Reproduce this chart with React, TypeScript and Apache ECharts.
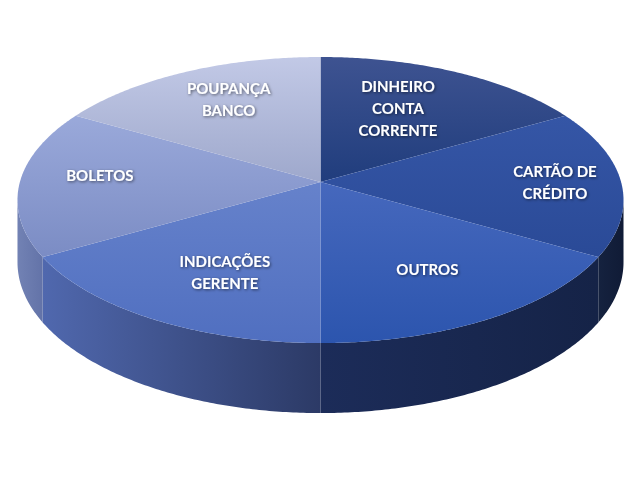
import React, { useEffect, useRef } from "react";
import * as echarts from "echarts";

const labels = [
  "DINHEIRO\nCONTA\nCORRENTE",
  "CARTÃO DE\nCRÉDITO",
  "OUTROS",
  "INDICAÇÕES\nGERENTE",
  "BOLETOS",
  "POUPANÇA\nBANCO",
];
const values = [1, 1, 1, 1, 1, 1];

const topColors = [
  ["#3e5391", "#203d7d"],
  ["#3556a6", "#2a4a97"],
  ["#4668bd", "#2c55ae"],
  ["#6682cb", "#506fc0"],
  ["#9aa9da", "#7b8cc4"],
  ["#c2c9e6", "#9ea8cc"],
];
const sideColors = [
  ["#14203f", "#111c38"],
  ["#15223f", "#101b36"],
  ["#1c2c59", "#152347"],
  ["#5068ae", "#2c3a66"],
  ["#7282b4", "#6373a8"],
  ["#6373a8", "#6373a8"],
];
const labelRadius = [0.63, 0.78, 0.66, 0.66, 0.74, 0.72];
const labelAngleShift = [-4, 0, 0, -3.5, 3.7, 2.7];

export default function App() {
  const ref = useRef<HTMLDivElement>(null);
  useEffect(() => {
    document.body.style.margin = "0";
    const chart = echarts.init(ref.current!, null, { renderer: "svg" });
    const total = values.reduce((s, v) => s + v, 0);
    const cum: number[] = [0];
    values.forEach((v, i) => cum.push(cum[i] + v));
    const K = 0.126;
    const A = 300.6;
    const B = 140.75;
    const D = 61.2;
    const CY = 182;
    const silL = Math.acos(-K);
    const silR = 2 * Math.PI - Math.acos(-K);

    const renderItem = (params: any, api: any) => {
      const i = params.dataIndex;
      const cx = api.getWidth() / 2;
      const proj = (a: number, r: number, down: boolean) => {
        const u = r * Math.sin(a);
        const v = r * Math.cos(a);
        const w = 1 + K * v;
        return [cx + (A * u) / w, CY - (B * v) / w + (down ? D / w : 0)];
      };
      const s = (cum[i] / total) * 2 * Math.PI;
      const e = (cum[i + 1] / total) * 2 * Math.PI;
      const children: any[] = [];
      const a0 = Math.max(s, silL);
      const a1 = Math.min(e, silR);
      if (a1 > a0) {
        const n = Math.max(4, Math.ceil((a1 - a0) / 0.01));
        const topPts: number[][] = [];
        const botPts: number[][] = [];
        for (let j = 0; j <= n; j++) {
          const a = a0 + ((a1 - a0) * j) / n;
          topPts.push(proj(a, 1, false));
          botPts.push(proj(a, 1, true));
        }
        const pts = topPts.concat(botPts.reverse());
        children.push({
          type: "polygon",
          shape: { points: pts },
          style: {
            fill: {
              type: "linear",
              x: 0, y: 0, x2: 1, y2: 0,
              colorStops: [
                { offset: 0, color: sideColors[i][0] },
                { offset: 1, color: sideColors[i][1] },
              ],
            },
            stroke: null,
          },
        });
      }
      const n = Math.ceil((e - s) / 0.01);
      const pts: number[][] = [proj(0, 0, false)];
      for (let j = 0; j <= n; j++) pts.push(proj(s + ((e - s) * j) / n, 1, false));
      children.push({
        type: "polygon",
        shape: { points: pts },
        style: {
          fill: {
            type: "linear",
            x: 0, y: 0, x2: 0, y2: 1,
            colorStops: [
              { offset: 0, color: topColors[i][0] },
              { offset: 1, color: topColors[i][1] },
            ],
          },
          stroke: null,
        },
      });
      const mid = (s + e) / 2 + (labelAngleShift[i] * Math.PI) / 180;
      const lp = proj(mid, labelRadius[i], false);
      children.push({
        type: "text",
        z2: 10,
        style: {
          text: labels[i],
          x: lp[0],
          y: lp[1],
          align: "center",
          verticalAlign: "middle",
          fill: "#ffffff",
          font: "bold 15px Lato",
          lineHeight: 22,
          textShadowColor: "rgba(0,0,0,0.55)",
          textShadowBlur: 3,
          textShadowOffsetX: 1,
          textShadowOffsetY: 1,
        },
      });
      return { type: "group", children };
    };

    chart.setOption({
      animation: false,
      backgroundColor: "#ffffff",
      series: [
        {
          type: "custom",
          coordinateSystem: "none",
          renderItem,
          data: values.map((v, i) => ({ name: labels[i], value: v })),
        },
      ],
    });
    return () => chart.dispose();
  }, []);
  return <div ref={ref} style={{ width: 641, height: 488 }} />;
}
